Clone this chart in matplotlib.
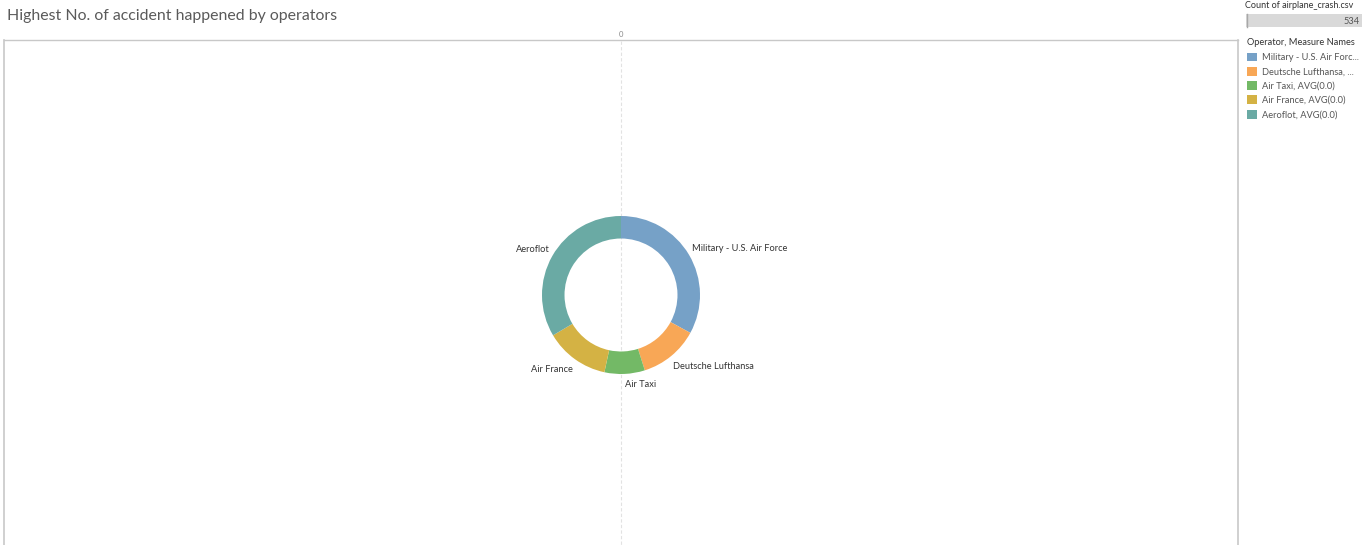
#!/usr/bin/env python3
"""Donut of airplane crashes for the five operators with the most accidents."""

import matplotlib

matplotlib.use("Agg")
import matplotlib.pyplot as plt
from matplotlib.patches import Rectangle

W, H = 1366, 545

operators = ["Military - U.S. Air Force", "Deutsche Lufthansa", "Air Taxi", "Air France", "Aeroflot"]
crash_counts = [176, 65, 44, 70, 179]
legend_labels = [
    "Military - U.S. Air Forc...",
    "Deutsche Lufthansa, ...",
    "Air Taxi, AVG(0.0)",
    "Air France, AVG(0.0)",
    "Aeroflot, AVG(0.0)",
]
colors = ["#76a1c7", "#f8a756", "#73b966", "#d4b244", "#6aaaa4"]

TEXT = "#555555"
GRID = "#c8c8c8"
FONT = ["Lato", "DejaVu Sans"]

plt.rcParams["font.family"] = FONT

fig = plt.figure(figsize=(W / 100, H / 100), dpi=100)
fig.patch.set_facecolor("white")

# pixel-space overlay for frame, title and side panel
bg = fig.add_axes([0, 0, 1, 1])
bg.set_xlim(0, W)
bg.set_ylim(H, 0)
bg.axis("off")

bg.text(7, 16, "Highest No. of accident happened by operators", fontsize=11.4,
        color="#5a5a5a", va="center", ha="left")

bg.plot([4, 1238], [40, 40], color=GRID, lw=1)
bg.plot([4, 4], [40, H], color=GRID, lw=1.2)
bg.plot([1238, 1238], [40, H], color=GRID, lw=1.2)
bg.plot([621, 621], [41, H], color="#e2e2e2", lw=0.8, ls=(0, (3, 2)))
bg.text(621, 38, "0", fontsize=5.5, color="#888888", ha="center", va="bottom")

# count filter widget
bg.text(1245, 6, "Count of airplane_crash.csv", fontsize=6.5, color="#333333",
        ha="left", va="center")
bg.add_patch(Rectangle((1246, 14), 116, 13, facecolor="#d9d9d9", edgecolor="none"))
bg.plot([1247, 1247], [14, 27], color="#a8a8a8", lw=1)
bg.text(1360, 21, str(sum(crash_counts)), fontsize=6.7, color=TEXT, ha="right", va="center")

# donut
cx, cy, r = 621, 295, 79
pie_ax = fig.add_axes([(cx - r) / W, 1 - (cy + r) / H, 2 * r / W, 2 * r / H])
wedges, texts = pie_ax.pie(
    crash_counts,
    labels=operators,
    colors=colors,
    startangle=90,
    counterclock=False,
    labeldistance=1.04,
    radius=1,
    wedgeprops=dict(width=0.285, edgecolor="none"),
    textprops=dict(fontsize=6.7, color="#333333"),
)
pie_ax.set_xlim(-1, 1)
pie_ax.set_ylim(-1, 1)
pie_ax.set_aspect("equal")
for t in texts:
    t.set_clip_on(False)
    # labels sit above the ring on the top half, below it on the bottom half
    x, y = t.get_position()
    if y > 0:
        t.set_va("bottom")
    else:
        t.set_va("top")
        t.set_position((x, y - 0.04))

leg = fig.legend(
    wedges,
    legend_labels,
    loc="upper left",
    bbox_to_anchor=(1247 / W, 1 - 38 / H),
    frameon=False,
    fontsize=6.7,
    title="Operator, Measure Names",
    title_fontsize=6.7,
    handlelength=1.1,
    handleheight=1.1,
    handletextpad=0.55,
    labelspacing=0.5,
    borderaxespad=0,
    borderpad=0,
    alignment="left",
)
leg._legend_box.sep = 4
for t in leg.get_texts():
    t.set_color(TEXT)
leg.get_title().set_color("#333333")

fig.savefig("out.png", dpi=100, facecolor="white")
